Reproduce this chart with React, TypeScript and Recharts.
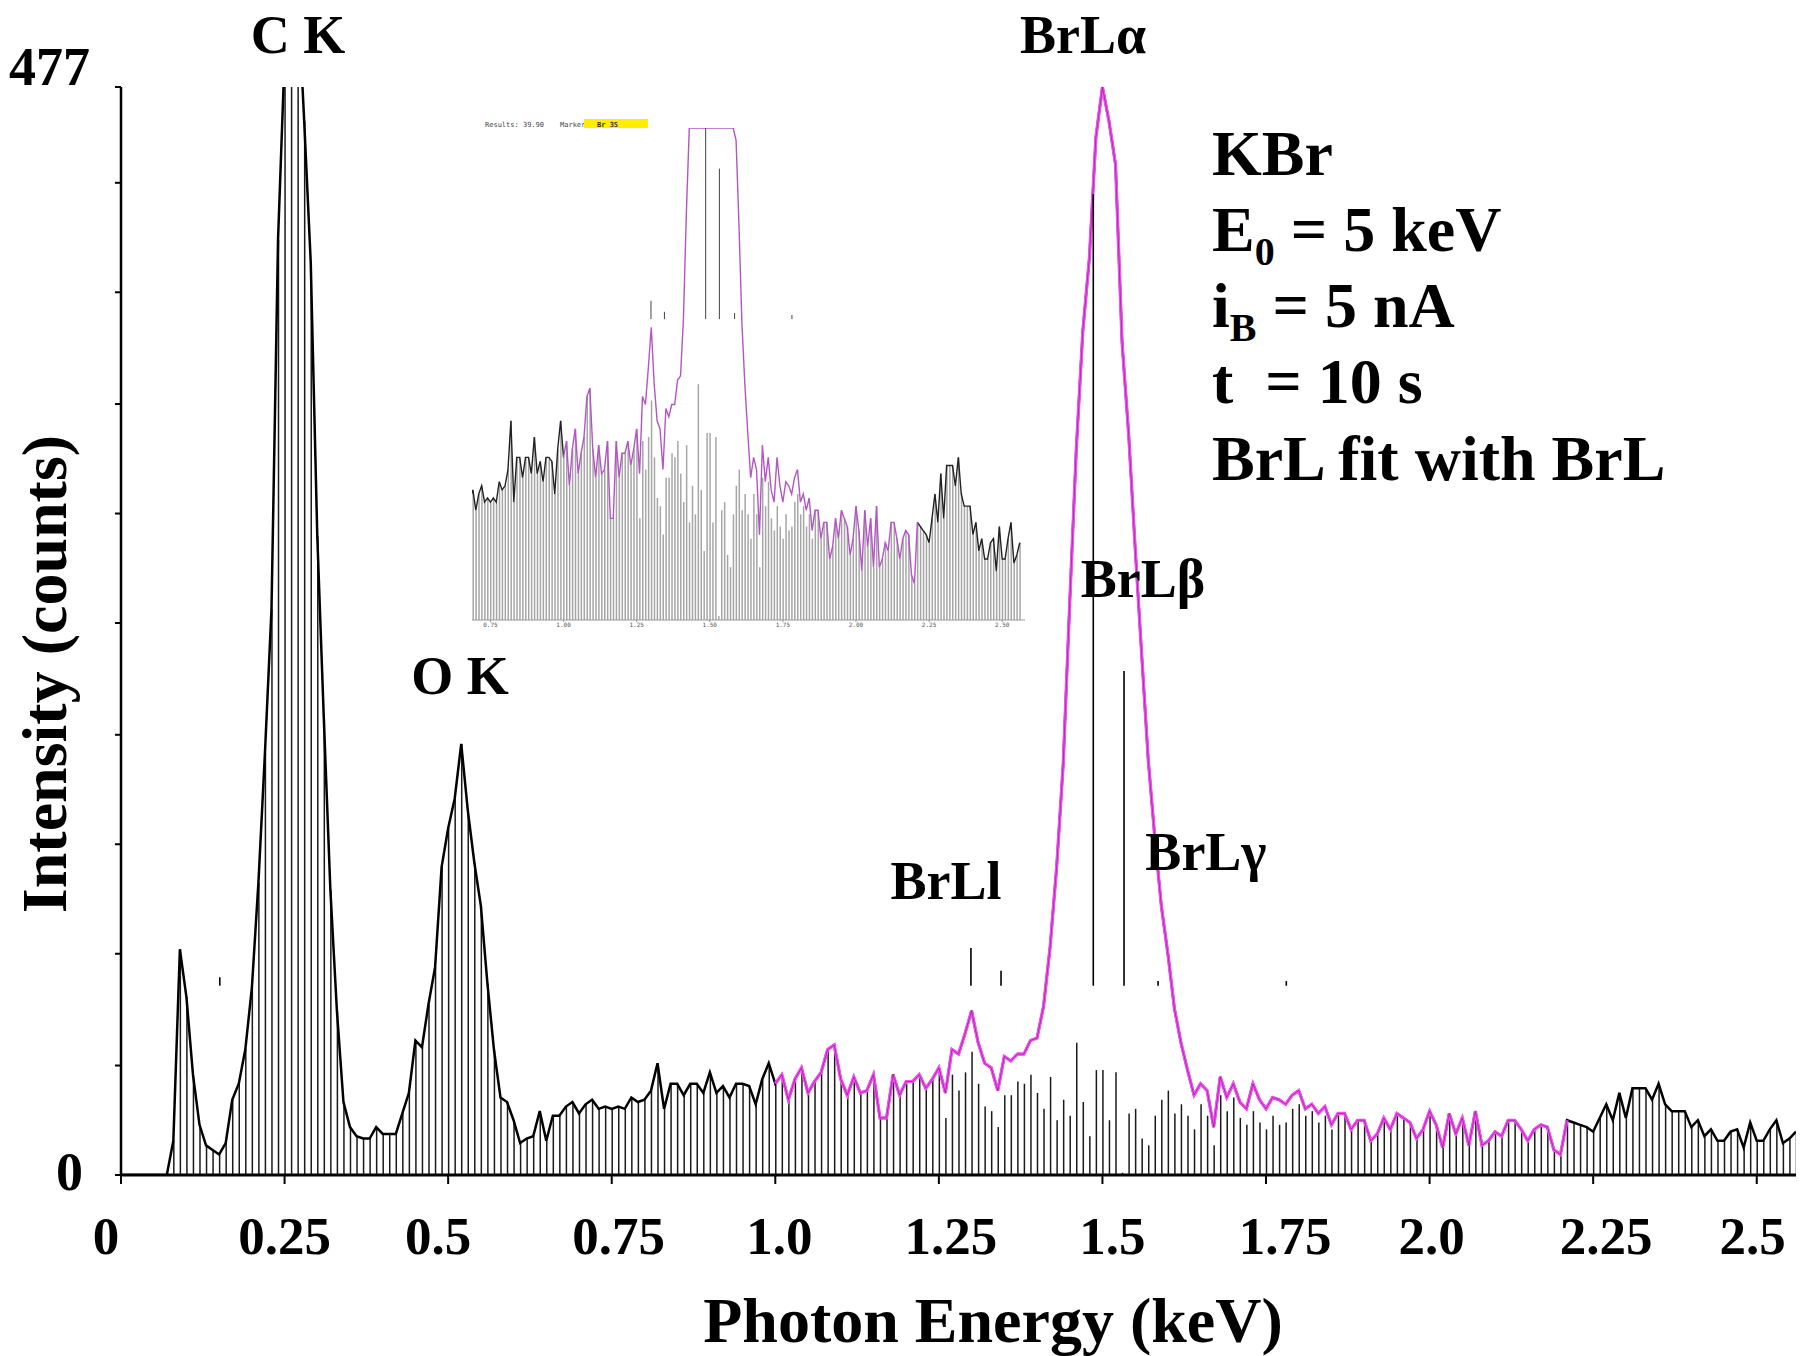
import React from 'react';
import { ComposedChart, Bar, Line, XAxis, YAxis, ReferenceLine } from 'recharts';

const SERIF = "'Liberation Serif', 'Times New Roman', Times, serif";

// Channel calibration (10 eV channels starting at 0 keV)
const FIRST_CHANNEL_KEV = 0;
const CHANNEL_KEV = 0.01;

// Measured spectrum counts per channel, 0.00 ... 2.56 keV
const spectrumCounts = [
  0, 0, 0, 0, 0, 0, 0, 0, 15, 99,
  78, 44, 22, 13, 11, 9, 14, 33, 40, 55,
  82, 128, 185, 248, 410, 490, 530, 520, 462, 400,
  280, 200, 125, 72, 32, 21, 17, 16, 16, 21,
  18, 18, 18, 27, 36, 59, 56, 75, 91, 135,
  152, 165, 189, 160, 137, 118, 84, 55, 34, 32,
  24, 14, 16, 17, 28, 15, 26, 26, 30, 32,
  27, 31, 33, 29, 30, 29, 30, 29, 34, 32,
  33, 37, 49, 29, 40, 40, 35, 40, 40, 36,
  45, 36, 39, 34, 40, 40, 39, 31, 42, 49,
  40, 44, 33, 42, 47, 36, 41, 45, 55, 57,
  42, 35, 43, 36, 37, 44, 25, 25, 44, 35,
  41, 41, 44, 38, 42, 47, 36, 55, 53, 62,
  72, 58, 49, 47, 37, 52, 50, 53, 53, 59,
  60, 74, 100, 135, 180, 251, 318, 370, 402, 455,
  477, 462, 443, 365, 325, 275, 228, 182, 148, 118,
  97, 73, 58, 46, 35, 40, 37, 21, 43, 34,
  40, 32, 29, 40, 33, 29, 34, 33, 31, 35,
  37, 29, 31, 27, 30, 22, 27, 27, 20, 24,
  24, 15, 18, 25, 20, 27, 25, 23, 16, 20,
  28, 22, 12, 27, 18, 25, 13, 28, 13, 15,
  19, 17, 24, 24, 20, 15, 20, 22, 21, 11,
  9, 24, 23, 22, 21, 19, 25, 31, 24, 36,
  25, 38, 38, 38, 33, 40, 31, 28, 28, 28,
  21, 24, 17, 20, 15, 15, 19, 20, 12, 23,
  15, 15, 20, 24, 14, 16, 19,
];

// Residual after the BrL fit, 1.25 ... 1.85 keV
const residualStartKeV = 1.25;
const residualCounts = [
  47, 25, 44, 37, 45,
  54, 40, 30, 28, 21, 35, 35, 41, 40, 44,
  36, 29, 43, 24, 33, 26, 58, 32, 17, 46,
  46, 24, 45, 1, 27, 29, 16, 13, 26, 33,
  37, 27, 31, 26, 20, 31, 26, 13, 35, 28,
  34, 25, 22, 28, 23, 20, 26, 22, 23, 29,
  31, 26, 28, 23, 26, 20,
];

const fitStartKeV = 1.0;
const fitEndKeV = 2.21;

// KLM line markers
const markerEnergies = [0.151, 1.299, 1.345, 1.486, 1.533, 1.585, 1.781];
const markerBase = 83;
const markerTops = [86.7, 99.5, 89.6, 430, 221, 85, 85];
const insetMarkerBase = 74;
const insetMarkerTops = [74, 78.5, 75.8, 121, 111, 75.5, 75];

const xTicks = [0, 0.25, 0.5, 0.75, 1.0, 1.25, 1.5, 1.75, 2.0, 2.25, 2.5];
const xTickLabels = ['0', '0.25', '0.5', '0.75', '1.0', '1.25', '1.5', '1.75', '2.0', '2.25', '2.5'];
const xTickLabelShift = [-15, 0, -10, 7, 4, 12, 10, 19, 2, 13, -4];
const yTicks = [0, 48, 97, 145, 193, 242, 290, 338, 387, 435, 477];
const yMax = 477;
const xMax = 2.56;

const insetXTicks = [0.75, 1.0, 1.25, 1.5, 1.75, 2.0, 2.25, 2.5];
const insetXTickLabels = ['0.75', '1.00', '1.25', '1.50', '1.75', '2.00', '2.25', '2.50'];
const insetXMin = 0.687;
const insetXMax = 2.578;
const insetYMax = 121;

const EPS = 1e-6;
const channels = spectrumCounts.map((count, i) => {
  const energy = Math.round((FIRST_CHANNEL_KEV + i * CHANNEL_KEV) * 100) / 100;
  const r = Math.round((energy - residualStartKeV) / CHANNEL_KEV);
  const bar = r >= 0 && r < residualCounts.length ? residualCounts[r] : count;
  const inFit = energy >= fitStartKeV - EPS && energy <= fitEndKeV + EPS;
  const inFitInterior = energy > fitStartKeV + EPS && energy < fitEndKeV - EPS;
  return {
    energy,
    count,
    bar,
    fit: inFit ? count : null,
    insetFit: inFit ? Math.min(count, insetYMax) : null,
    insetPlain: inFitInterior ? null : Math.min(count, insetYMax),
  };
});

function MainXTick(props: any) {
  const { x, y, payload } = props;
  const i = xTicks.indexOf(payload.value);
  return (
    <text
      x={x + (xTickLabelShift[i] || 0)}
      y={y + 36}
      textAnchor="middle"
      fontFamily={SERIF}
      fontWeight="bold"
      fontSize={53}
      fill="#000"
    >
      {xTickLabels[i]}
    </text>
  );
}

function MainYTick(props: any) {
  const { x, y, payload } = props;
  if (payload.value !== 0 && payload.value !== yMax) return <g />;
  const top = payload.value === yMax;
  return (
    <text
      x={x + (top ? 7 : 0)}
      y={y + (top ? -2 : 15)}
      textAnchor="end"
      fontFamily={SERIF}
      fontWeight="bold"
      fontSize={54}
      fill="#000"
    >
      {payload.value}
    </text>
  );
}

function InsetXTick(props: any) {
  const { x, y, payload } = props;
  const i = insetXTicks.indexOf(payload.value);
  return (
    <text x={x} y={y + 5} textAnchor="middle" fontFamily="'DejaVu Sans Mono', monospace" fontSize={6} fill="#555">
      {insetXTickLabels[i]}
    </text>
  );
}

function MainChart() {
  return (
    <ComposedChart
      width={1807}
      height={1356}
      data={channels}
      margin={{ top: 87, right: 11, bottom: 121, left: 61 }}
    >
      <XAxis
        dataKey="energy"
        type="number"
        domain={[0, xMax]}
        ticks={xTicks}
        interval={0}
        height={60}
        tick={<MainXTick />}
        tickSize={9}
        tickMargin={34}
        axisLine={{ stroke: '#000', strokeWidth: 3 }}
        tickLine={{ stroke: '#000', strokeWidth: 2 }}
        allowDataOverflow
      />
      <YAxis
        type="number"
        domain={[0, yMax]}
        ticks={yTicks}
        interval={0}
        width={60}
        tick={<MainYTick />}
        tickSize={6}
        tickMargin={32}
        axisLine={{ stroke: '#000', strokeWidth: 2.5 }}
        tickLine={{ stroke: '#000', strokeWidth: 2 }}
        allowDataOverflow
      />
      <Bar dataKey="bar" fill="#1a1a1a" barSize={1.5} isAnimationActive={false} />
      <Line
        dataKey="count"
        type="linear"
        stroke="#000"
        strokeWidth={2.5}
        dot={false}
        activeDot={false}
        isAnimationActive={false}
      />
      <Line
        dataKey="fit"
        type="linear"
        stroke="#ff4dff"
        strokeWidth={3.2}
        dot={false}
        activeDot={false}
        connectNulls={false}
        isAnimationActive={false}
      />
      <Line
        dataKey="fit"
        type="linear"
        stroke="#000"
        strokeOpacity={0.45}
        strokeWidth={0.8}
        dot={false}
        activeDot={false}
        connectNulls={false}
        isAnimationActive={false}
      />
      {markerEnergies.map((e, i) => (
        <ReferenceLine
          key={'m' + i}
          segment={[
            { x: e, y: markerBase },
            { x: e, y: markerTops[i] },
          ]}
          stroke="#000"
          strokeWidth={1.6}
          ifOverflow="visible"
        />
      ))}
    </ComposedChart>
  );
}

function InsetChart() {
  return (
    <ComposedChart
      width={553}
      height={540}
      data={channels}
      margin={{ top: 28, right: 0, bottom: 6, left: 0 }}
    >
      <XAxis
        dataKey="energy"
        type="number"
        domain={[insetXMin, insetXMax]}
        ticks={insetXTicks}
        interval={0}
        height={14}
        tick={<InsetXTick />}
        tickSize={2}
        tickMargin={0}
        axisLine={{ stroke: '#999', strokeWidth: 1 }}
        tickLine={{ stroke: '#999', strokeWidth: 1 }}
        allowDataOverflow
      />
      <YAxis hide type="number" domain={[0, insetYMax]} allowDataOverflow />
      <Bar dataKey="bar" fill="#a6a6a6" barSize={1.5} isAnimationActive={false} />
      <Line
        dataKey="insetPlain"
        type="linear"
        stroke="#222"
        strokeWidth={1.4}
        dot={false}
        activeDot={false}
        connectNulls={false}
        isAnimationActive={false}
      />
      <Line
        dataKey="insetFit"
        type="linear"
        stroke="#b455c4"
        strokeWidth={1.4}
        dot={false}
        activeDot={false}
        connectNulls={false}
        isAnimationActive={false}
      />
      {markerEnergies.map((e, i) =>
        e >= insetXMin ? (
          <ReferenceLine
            key={'im' + i}
            segment={[
              { x: e, y: insetMarkerBase },
              { x: e, y: insetMarkerTops[i] },
            ]}
            stroke="#444"
            strokeWidth={1}
            ifOverflow="visible"
          />
        ) : null
      )}
    </ComposedChart>
  );
}

function Annotations() {
  const big = { fontFamily: SERIF, fontWeight: 'bold' as const, fill: '#000' };
  return (
    <svg
      width={1807}
      height={1356}
      style={{ position: 'absolute', left: 0, top: 0, pointerEvents: 'none' }}
    >
      <text x={298} y={53} textAnchor="middle" fontSize={54} {...big}>C K</text>
      <text x={1083} y={53} textAnchor="middle" fontSize={54} {...big}>BrLα</text>
      <text x={460} y={694} textAnchor="middle" fontSize={54} {...big}>O K</text>
      <text x={1143} y={597} textAnchor="middle" fontSize={54} {...big}>BrLβ</text>
      <text x={1206} y={870} textAnchor="middle" fontSize={54} {...big}>BrLγ</text>
      <text x={946} y={899} textAnchor="middle" fontSize={54} {...big}>BrLl</text>

      <text x={1212} y={175} fontSize={64} {...big}>KBr</text>
      <text x={1212} y={251} fontSize={64} {...big}>
        E<tspan fontSize={40} dy={14}>0</tspan>
        <tspan dy={-14}> = 5 keV</tspan>
      </text>
      <text x={1212} y={327} fontSize={64} {...big}>
        i<tspan fontSize={40} dy={14}>B</tspan>
        <tspan dy={-14}> = 5 nA</tspan>
      </text>
      <text x={1212} y={403} fontSize={64} {...big}>{'t\u00A0 = 10 s'}</text>
      <text x={1212} y={480} fontSize={64} {...big}>BrL fit with BrL</text>

      <text x={993} y={1342} textAnchor="middle" fontSize={64} {...big}>Photon Energy (keV)</text>
      <text
        x={66}
        y={674}
        textAnchor="middle"
        fontSize={64}
        transform="rotate(-90, 66, 674)"
        {...big}
      >
        Intensity (counts)
      </text>

      <text x={485} y={127} fontSize={7} fontFamily="'DejaVu Sans Mono', monospace" fill="#444">Results: 39.90</text>
      <text x={560} y={127} fontSize={7} fontFamily="'DejaVu Sans Mono', monospace" fill="#444">Marker:</text>
      <rect x={584} y={119} width={64} height={9} fill="#ffee00" />
      <text x={597} y={127} fontSize={7} fontWeight="bold" fontFamily="'DejaVu Sans Mono', monospace" fill="#333">{'Br  35'}</text>
    </svg>
  );
}

export default function App() {
  return (
    <div style={{ position: 'absolute', left: 0, top: 0, width: 1807, height: 1356, background: '#fff', overflow: 'hidden' }}>
      <div style={{ position: 'absolute', left: 0, top: 0 }}>
        <MainChart />
      </div>
      <div style={{ position: 'absolute', left: 472, top: 100 }}>
        <InsetChart />
      </div>
      <Annotations />
    </div>
  );
}
